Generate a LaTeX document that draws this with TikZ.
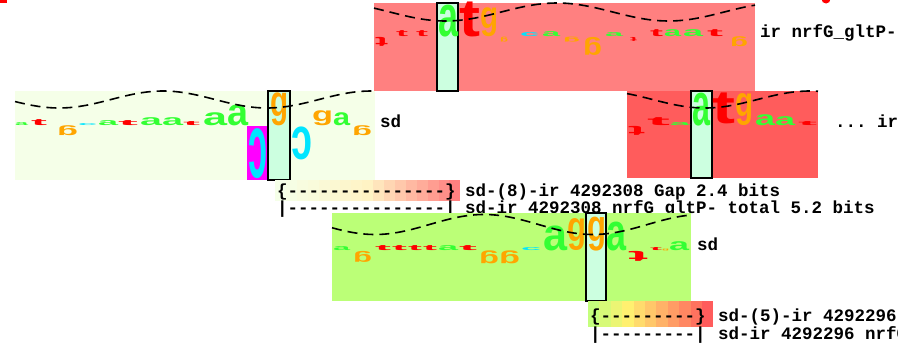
\documentclass[tikz,border=0pt]{standalone}
\usepackage{fontspec}
\setmonofont{Liberation Mono}
\newfontfamily\logofont{Liberation Sans}
\definecolor{hellgruen}{HTML}{F5FFE8}
\definecolor{lachs}{HTML}{FF8080}
\definecolor{rotlogo}{HTML}{FF5C5C}
\definecolor{gruenlogo}{HTML}{BBFF77}
\definecolor{minze}{HTML}{CCFFE0}
\definecolor{lila}{HTML}{FF00FF}
\definecolor{gelbhell}{HTML}{FFF3C4}
\definecolor{gelbkraeftig}{HTML}{FFF070}
\definecolor{gruenstart}{HTML}{C4FF7C}
\definecolor{basisA}{HTML}{33FF33}
\definecolor{basisC}{HTML}{00E5FF}
\definecolor{basisG}{HTML}{FFA500}
\definecolor{basisT}{HTML}{FF0000}
\tikzset{
	buchstabe/.style={inner sep=0pt,outer sep=0pt,font=\logofont\bfseries},
	hoch/.style={buchstabe,anchor=south west},
	tief/.style={buchstabe,anchor=north west},
	fenster/.style={draw=black,line width=1.2pt,fill=minze},
	welle/.style={line width=1.6pt,dash pattern=on 10pt off 6pt},
	schrift/.style={font=\ttfamily\bfseries\fontsize{17.5}{21}\selectfont,inner sep=0pt,anchor=base west},
}
\newcounter{basis}
% #1 x, #2 Grundlinie, #3 Breite, #4 Hoehe, #5 Buchstabe, #6 Farbe
\newcommand{\basehoch}[6]{\stepcounter{basis}\node[hoch,text=#6] (b\thebasis) at (#1,#2) {\resizebox*{#3pt}{#4pt}{#5}};}
\newcommand{\basetief}[6]{\stepcounter{basis}\node[tief,text=#6] (b\thebasis) at (#1,#2) {\resizebox*{#3pt}{#4pt}{\rotatebox{180}{#5}}};}
\begin{document}
\begin{tikzpicture}[x=1pt,y=-1pt]
	\useasboundingbox (0,0) rectangle (898,351);
	% Reste am Rand
	\fill[basisT] (0,0) rectangle (7,3);
	\fill[basisT] (826,-1) circle (4.5);
	% oberes Logo
	\fill[lachs] (374,3) rectangle (755,91);
	\draw[fenster] (437,3) rectangle (458,91);
	\basehoch{396}{37}{12}{6}{t}{basisT}
	\basehoch{416}{37}{12}{6}{t}{basisT}
	\basehoch{438}{37}{20}{32}{a}{basisA}
	\basehoch{459}{37}{21}{35}{t}{basisT}
	\basehoch{480}{37}{18}{29}{g}{basisG}
	\basehoch{520}{37}{19}{4}{c}{basisC}
	\basehoch{542}{37}{18}{5}{a}{basisA}
	\basehoch{605}{37}{18}{4}{a}{basisA}
	\basehoch{650}{37}{13}{7}{t}{basisT}
	\basehoch{664}{37}{17}{7}{a}{basisA}
	\basehoch{683}{37}{20}{7}{a}{basisA}
	\basehoch{707}{37}{16}{7}{t}{basisT}
	\basetief{375}{37}{13}{9}{t}{basisT}
	\basetief{500}{37}{8}{5}{g}{basisG}
	\basetief{563}{37}{17}{5}{g}{basisG}
	\basetief{583}{37}{19}{18}{g}{basisG}
	\basetief{630}{37}{7}{4}{t}{basisT}
	\basetief{730}{37}{18}{10}{g}{basisG}
	\draw[welle] plot[domain=374:755,samples=80] (\x,{12-9*cos((\x-557)/223*360)});
	\node[schrift] (oben) at (760,37) {ir nrfG\_gltP-};
	% linkes Logo
	\fill[hellgruen] (15,91) rectangle (375,180);
	\fill[lila] (247,126) rectangle (268,180);
	\draw[fenster] (268,91) rectangle (290,180);
	\basehoch{15}{126}{13}{3}{a}{basisA}
	\basehoch{31}{126}{16}{6}{t}{basisT}
	\basehoch{78}{126}{19}{2}{c}{basisC}
	\basehoch{98}{126}{20}{5}{a}{basisA}
	\basehoch{118}{126}{20}{5}{t}{basisT}
	\basehoch{140}{126}{22}{8}{a}{basisA}
	\basehoch{162}{126}{21}{8}{a}{basisA}
	\basehoch{183}{126}{17}{4}{t}{basisT}
	\basehoch{203}{126}{24}{13}{a}{basisA}
	\basehoch{227}{126}{21}{21}{a}{basisA}
	\basehoch{270}{126}{18}{33}{g}{basisG}
	\basehoch{312}{126}{21}{15}{g}{basisG}
	\basehoch{333}{126}{17}{13}{a}{basisA}
	\basetief{57}{126}{21}{10}{g}{basisG}
	\basetief{248}{129}{19}{50}{c}{basisC}
	\basetief{291}{127}{21}{33}{c}{basisC}
	\basetief{352}{126}{20}{10}{g}{basisG}
	\draw[welle] plot[domain=15:375,samples=80] (\x,{99.5-8.5*cos((\x-163)/208*360)});
	\node[schrift] (links) at (380,127) {sd};
	% rechtes Logo
	\fill[rotlogo] (627,91) rectangle (818,178);
	\draw[fenster] (691,91) rectangle (712,178);
	\basehoch{647}{126}{23}{8}{t}{basisT}
	\basehoch{670}{126}{20}{3}{a}{basisA}
	\basehoch{692}{126}{18}{33}{a}{basisA}
	\basehoch{712}{124}{23}{31}{t}{basisT}
	\basehoch{735}{126}{18}{32}{g}{basisG}
	\basehoch{755}{126}{20}{11}{a}{basisA}
	\basehoch{775}{126}{20}{9}{a}{basisA}
	\basehoch{798}{126}{19}{4}{t}{basisT}
	\basetief{628}{126}{17}{9}{t}{basisT}
	\draw[welle] plot[domain=627:818,samples=50] (\x,{99.5+8.5*cos((\x-705)/210*360)});
	\node[schrift] (rechts) at (835,127) {... ir};
	% erste Luecke
	\foreach \i in {0,...,16}{
		\pgfmathtruncatemacro{\p}{\i<8 ? 100*\i/8 : 100*(\i-8)/8}
		\ifnum\i<8 \def\farbe{gelbhell!\p!hellgruen}\else\def\farbe{lachs!\p!gelbhell}\fi
		\fill[fill=\farbe] ({275+\i*10.9},180) rectangle ++(10.95,21);
	}
	\node[schrift] (klammerA) at (277,196) {\{---------------\}};
	\node[schrift] (strichA) at (277,213) {|---------------|};
	\node[schrift] (luckeA) at (465,196) {sd-(8)-ir 4292308 Gap 2.4 bits};
	\node[schrift] (summeA) at (465,213) {sd-ir 4292308 nrfG\_gltP- total 5.2 bits};
	% unteres Logo
	\fill[gruenlogo] (332,213) rectangle (691,301);
	\draw[fenster] (586,213) rectangle (606,301);
	\basehoch{333}{251}{17}{4}{a}{basisA}
	\basehoch{375}{251}{16}{5}{t}{basisT}
	\basehoch{392}{251}{15}{5}{t}{basisT}
	\basehoch{408}{251}{14}{5}{t}{basisT}
	\basehoch{423}{251}{14}{5}{t}{basisT}
	\basehoch{438}{251}{20}{5}{a}{basisA}
	\basehoch{459}{251}{18}{5}{t}{basisT}
	\basehoch{521}{251}{20}{3}{c}{basisC}
	\basehoch{543}{251}{24}{25}{a}{basisA}
	\basehoch{567}{251}{19}{32}{g}{basisG}
	\basehoch{587}{251}{19}{34}{g}{basisG}
	\basehoch{606}{251}{20}{29}{a}{basisA}
	\basehoch{650}{251}{12}{3}{t}{basisT}
	\basehoch{662}{251}{7}{2}{g}{basisG}
	\basehoch{669}{251}{20}{9}{a}{basisA}
	\basetief{353}{251}{19}{11}{g}{basisG}
	\basetief{479}{251}{20}{13}{g}{basisG}
	\basetief{499}{251}{21}{13}{g}{basisG}
	\basetief{628}{251}{20}{10}{t}{basisT}
	\draw[welle] plot[domain=332:691,samples=80] (\x,{224.5+10*cos((\x-593)/218*360)});
	\node[schrift] (unten) at (697,250) {sd};
	% zweite Luecke
	\foreach \i in {0,...,10}{
		\pgfmathtruncatemacro{\p}{\i<3 ? 100*\i/3 : 100*(\i-3)/7}
		\ifnum\i<3 \def\farbe{gelbkraeftig!\p!gruenstart}\else\def\farbe{rotlogo!\p!gelbkraeftig}\fi
		\fill[fill=\farbe] ({588+\i*11.4},301) rectangle ++(11.45,26);
	}
	\node[schrift] (klammerB) at (590,321) {\{---------\}};
	\node[schrift] (strichB) at (590,339) {|---------|};
	\node[schrift] (luckeB) at (718,321) {sd-(5)-ir 4292296};
	\node[schrift] (summeB) at (718,339) {sd-ir 4292296 nrfG};
\end{tikzpicture}
\end{document}
